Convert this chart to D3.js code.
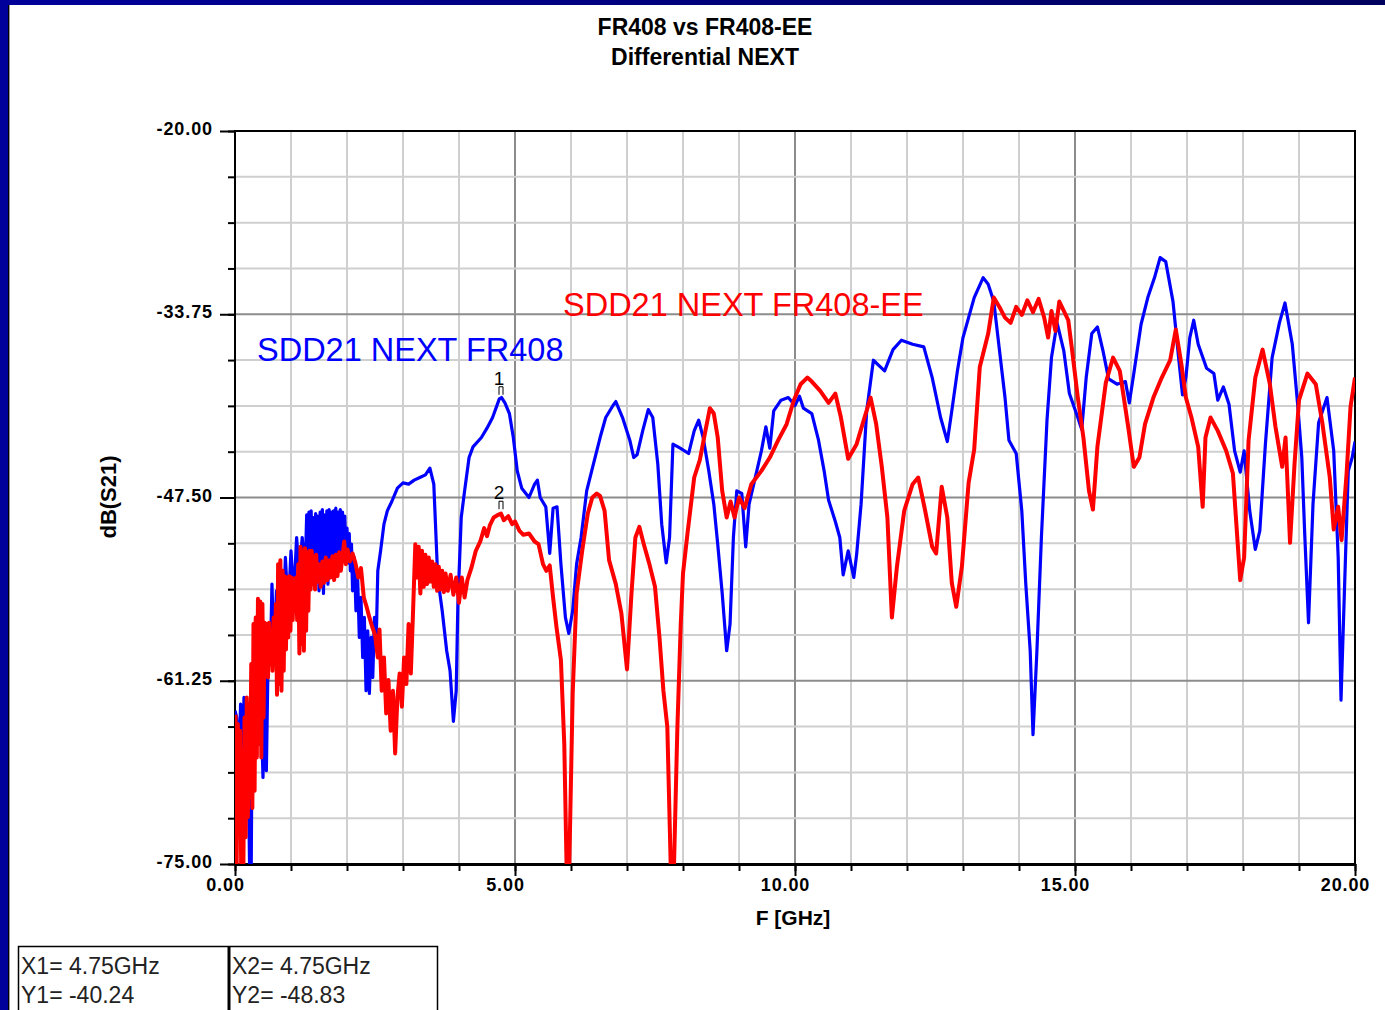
<!DOCTYPE html>
<html>
<head>
<meta charset="utf-8">
<script src="https://cdn.jsdelivr.net/npm/d3@7/dist/d3.min.js"></script>
<style>
  body { margin: 0; background: #fff; overflow: hidden; }
  svg { display: block; font-family: "Liberation Sans", Arial, sans-serif; }
</style>
</head>
<body>
<div id="chart"></div>
<script>
// Chart text
var titleLines = ["FR408 vs FR408-EE", "Differential NEXT"];
var xLabel = "F [GHz]";
var yLabel = "dB(S21)";
var seriesNames = ["SDD21 NEXT FR408", "SDD21 NEXT FR408-EE"];

// Axis ticks
var xMajor = [0, 5, 10, 15, 20];
var xMinor = d3.range(0, 21, 1);
var yMajor = [-20, -33.75, -47.5, -61.25, -75];
var yMinor = d3.range(0, 17).map(function (i) { return -20 - i * 3.4375; });

// Markers (freq GHz, dB)
var markerNames = ["1", "2"];
var markerFreq = [4.75, 4.75];
var markerDb = [-40.24, -48.83];

// SDD21 NEXT FR408 (blue) : [GHz, dB]
var fr408 = [
  [0.00,-63.5],[0.03,-64.0],[0.07,-67.5],[0.10,-63.0],[0.13,-69.0],[0.16,-62.5],[0.20,-71.0],[0.23,-66.0],
  [0.26,-75.0],[0.29,-75.0],[0.31,-62.0],[0.34,-67.0],[0.37,-58.5],[0.40,-66.0],[0.43,-57.5],[0.46,-62.5],
  [0.50,-68.5],[0.53,-60.0],[0.56,-68.0],[0.60,-57.0],[0.63,-60.0],[0.66,-54.0],[0.70,-59.5],[0.74,-54.5],
  [0.78,-58.0],[0.82,-53.0],[0.86,-57.0],[0.90,-52.0],[0.95,-56.0],[1.00,-51.5],[1.05,-55.0],[1.10,-50.5],
  [1.15,-53.5],[1.20,-50.5],[1.24,-52.5],[1.26,-52.0],[1.28,-48.8],[1.30,-53.5],[1.32,-48.6],[1.34,-54.0],
  [1.36,-48.5],[1.38,-53.0],[1.40,-49.0],[1.42,-54.2],[1.44,-48.7],[1.46,-53.6],[1.48,-48.9],[1.50,-54.5],
  [1.52,-48.6],[1.54,-53.8],[1.56,-48.4],[1.58,-54.7],[1.60,-48.8],[1.62,-53.2],[1.64,-48.5],[1.66,-54.0],
  [1.68,-48.4],[1.70,-52.8],[1.72,-48.6],[1.74,-53.5],[1.76,-48.5],[1.78,-52.4],[1.80,-48.3],[1.82,-53.0],
  [1.84,-48.6],[1.86,-52.6],[1.88,-48.4],[1.90,-51.8],[1.92,-48.6],[1.94,-52.2],[1.96,-48.9],[1.98,-51.5],
  [2.00,-49.8],[2.02,-52.4],[2.04,-50.2],[2.06,-53.0],[2.08,-51.0],[2.10,-54.5],[2.13,-52.0],[2.16,-56.0],
  [2.19,-53.5],[2.22,-58.0],[2.25,-55.0],[2.28,-59.5],[2.31,-56.5],[2.34,-62.0],[2.37,-57.5],[2.40,-62.2],
  [2.43,-58.0],[2.46,-61.0],[2.49,-56.5],[2.52,-58.5],[2.55,-53.0],[2.60,-51.5],[2.66,-49.5],[2.72,-48.5],
  [2.80,-47.8],[2.90,-46.8],[3.00,-46.4],[3.10,-46.5],[3.20,-46.2],[3.30,-46.0],[3.40,-45.8],[3.48,-45.3],
  [3.55,-46.5],[3.62,-53.5],[3.70,-56.0],[3.78,-59.0],[3.84,-60.5],[3.90,-64.3],[3.95,-62.0],[3.98,-55.5],
  [4.04,-49.0],[4.10,-47.0],[4.18,-44.5],[4.25,-43.7],[4.40,-43.0],[4.50,-42.3],[4.60,-41.5],[4.72,-40.1],
  [4.76,-40.0],[4.82,-40.4],[4.90,-41.2],[4.97,-43.0],[5.04,-45.5],[5.12,-46.8],[5.25,-47.5],[5.35,-46.5],
  [5.40,-46.2],[5.45,-47.5],[5.55,-48.2],[5.62,-51.7],[5.68,-48.3],[5.75,-48.2],[5.82,-52.5],[5.90,-56.5],
  [5.96,-57.7],[6.03,-56.0],[6.10,-52.5],[6.18,-50.5],[6.28,-47.0],[6.40,-45.0],[6.52,-43.0],[6.62,-41.5],
  [6.75,-40.6],[6.80,-40.3],[6.92,-41.5],[7.05,-43.2],[7.12,-44.5],[7.18,-44.3],[7.28,-42.5],[7.38,-40.9],
  [7.46,-41.5],[7.55,-45.0],[7.62,-49.5],[7.70,-52.4],[7.76,-50.5],[7.82,-43.5],[7.95,-43.8],[8.10,-44.2],
  [8.20,-42.5],[8.28,-41.7],[8.36,-43.0],[8.46,-45.5],[8.55,-48.0],[8.62,-51.0],[8.70,-54.7],[8.78,-59.0],
  [8.84,-57.0],[8.90,-50.5],[8.96,-47.0],[9.05,-47.2],[9.12,-51.2],[9.18,-48.0],[9.28,-46.2],[9.40,-44.0],
  [9.48,-42.2],[9.55,-43.8],[9.62,-41.0],[9.75,-40.2],[9.88,-40.0],[10.00,-40.6],[10.08,-39.9],[10.15,-40.8],
  [10.30,-41.2],[10.42,-43.2],[10.52,-45.5],[10.60,-47.7],[10.72,-49.3],[10.80,-50.5],[10.86,-53.3],[10.95,-51.5],
  [11.05,-53.5],[11.10,-51.8],[11.18,-48.0],[11.28,-41.0],[11.40,-37.2],[11.50,-37.6],[11.60,-38.0],[11.75,-36.4],
  [11.90,-35.7],[12.10,-36.0],[12.30,-36.2],[12.45,-38.5],[12.60,-41.5],[12.72,-43.3],[12.80,-41.0],[12.90,-38.0],
  [13.00,-35.5],[13.10,-34.0],[13.20,-32.5],[13.36,-31.0],[13.45,-31.5],[13.55,-32.8],[13.65,-36.4],[13.75,-40.0],
  [13.82,-43.2],[13.95,-44.2],[14.05,-48.5],[14.12,-53.9],[14.20,-59.0],[14.25,-65.3],[14.32,-59.0],[14.40,-50.5],
  [14.50,-41.7],[14.58,-37.0],[14.68,-34.4],[14.80,-36.5],[14.90,-39.7],[15.05,-41.5],[15.12,-42.4],[15.20,-38.5],
  [15.30,-35.2],[15.40,-34.7],[15.50,-36.5],[15.60,-38.6],[15.75,-39.0],[15.90,-38.8],[15.97,-40.4],[16.05,-38.2],
  [16.18,-34.5],[16.30,-32.5],[16.42,-31.0],[16.52,-29.5],[16.62,-29.8],[16.75,-32.8],[16.85,-37.0],[16.92,-39.8],
  [16.98,-38.5],[17.05,-35.5],[17.12,-34.2],[17.20,-36.0],[17.35,-37.8],[17.48,-38.2],[17.55,-40.2],[17.65,-39.2],
  [17.75,-40.5],[17.85,-44.0],[17.95,-45.6],[18.02,-44.0],[18.12,-48.5],[18.22,-51.4],[18.30,-50.0],[18.40,-43.5],
  [18.52,-37.0],[18.65,-34.4],[18.75,-32.9],[18.88,-36.0],[18.98,-40.7],[19.05,-44.5],[19.10,-50.0],[19.17,-56.9],
  [19.25,-48.0],[19.35,-41.9],[19.50,-40.0],[19.62,-44.0],[19.70,-52.0],[19.75,-62.7],[19.83,-52.0],[19.88,-45.5],
  [19.95,-44.5],[20.00,-43.3]
];

// SDD21 NEXT FR408-EE (red) : [GHz, dB]
var fr408ee = [
  [0.01,-63.8],[0.03,-75.0],[0.05,-64.5],[0.07,-72.0],[0.09,-65.0],[0.11,-75.0],[0.13,-66.5],[0.15,-75.0],
  [0.17,-64.0],[0.19,-73.0],[0.21,-62.5],[0.23,-71.5],[0.25,-63.0],[0.27,-70.0],[0.29,-60.0],[0.31,-70.8],
  [0.33,-57.0],[0.35,-69.5],[0.37,-56.5],[0.39,-67.0],[0.41,-55.1],[0.43,-66.0],[0.45,-55.3],[0.47,-67.0],
  [0.49,-55.5],[0.51,-64.0],[0.53,-56.9],[0.55,-60.5],[0.57,-57.0],[0.59,-61.0],[0.61,-56.9],[0.63,-60.0],
  [0.65,-57.5],[0.67,-60.5],[0.69,-56.5],[0.71,-59.5],[0.73,-55.5],[0.75,-62.3],[0.77,-52.5],[0.79,-61.5],
  [0.81,-52.2],[0.83,-62.0],[0.85,-53.0],[0.87,-60.5],[0.89,-53.4],[0.91,-58.9],[0.93,-53.5],[0.95,-58.0],
  [0.97,-53.4],[0.99,-57.5],[1.01,-53.5],[1.03,-56.7],[1.05,-53.6],[1.07,-56.0],[1.09,-53.5],[1.11,-56.7],
  [1.13,-52.5],[1.15,-59.2],[1.17,-51.2],[1.19,-58.5],[1.21,-51.5],[1.23,-59.0],[1.25,-51.3],[1.27,-57.5],
  [1.29,-51.6],[1.31,-56.0],[1.33,-51.5],[1.35,-54.4],[1.37,-51.5],[1.39,-54.0],[1.41,-52.0],[1.43,-54.4],
  [1.45,-51.8],[1.47,-53.8],[1.50,-52.5],[1.53,-54.2],[1.56,-52.3],[1.59,-53.9],[1.62,-52.0],[1.65,-53.7],
  [1.68,-52.2],[1.71,-53.5],[1.74,-51.9],[1.77,-53.7],[1.80,-51.8],[1.83,-53.4],[1.86,-51.6],[1.89,-53.0],
  [1.92,-51.9],[1.95,-50.8],[1.98,-52.5],[2.01,-51.4],[2.05,-52.3],[2.10,-51.7],[2.15,-52.4],[2.20,-53.5],
  [2.25,-52.8],[2.30,-55.0],[2.35,-55.7],[2.40,-56.5],[2.45,-57.2],[2.50,-57.8],[2.55,-59.5],[2.58,-57.4],
  [2.62,-62.0],[2.66,-59.5],[2.70,-63.7],[2.74,-61.2],[2.78,-65.0],[2.82,-62.0],[2.86,-66.7],[2.90,-62.5],
  [2.94,-60.7],[2.98,-63.2],[3.02,-59.5],[3.06,-61.5],[3.10,-57.0],[3.14,-60.7],[3.18,-56.0],[3.22,-51.0],
  [3.25,-53.5],[3.28,-51.2],[3.31,-54.7],[3.34,-51.5],[3.37,-54.2],[3.40,-51.8],[3.43,-54.0],[3.46,-52.0],
  [3.49,-53.8],[3.52,-52.3],[3.55,-54.2],[3.58,-52.5],[3.61,-54.5],[3.64,-52.7],[3.67,-54.4],[3.70,-53.0],
  [3.73,-54.6],[3.76,-53.2],[3.80,-54.5],[3.85,-53.3],[3.90,-54.8],[3.95,-53.5],[4.00,-55.4],[4.05,-53.5],
  [4.10,-55.0],[4.15,-53.7],[4.22,-52.8],[4.30,-51.5],[4.38,-50.8],[4.45,-49.8],[4.50,-50.4],[4.55,-49.6],
  [4.62,-49.0],[4.70,-48.8],[4.75,-48.7],[4.80,-49.2],[4.88,-48.9],[4.95,-49.5],[5.00,-49.3],[5.08,-50.0],
  [5.15,-50.3],[5.25,-50.2],[5.35,-50.8],[5.42,-51.0],[5.50,-52.5],[5.56,-53.0],[5.62,-52.6],[5.68,-55.0],
  [5.74,-57.2],[5.82,-59.7],[5.88,-66.0],[5.92,-75.0],[5.97,-75.0],[6.03,-62.2],[6.10,-54.7],[6.20,-51.5],
  [6.30,-48.7],[6.38,-47.5],[6.46,-47.2],[6.52,-47.4],[6.60,-48.5],[6.68,-52.2],[6.80,-54.0],[6.90,-56.2],
  [7.00,-60.4],[7.08,-54.7],[7.15,-50.5],[7.22,-49.7],[7.30,-51.0],[7.40,-52.5],[7.50,-54.2],[7.58,-58.0],
  [7.65,-62.0],[7.72,-64.7],[7.78,-75.0],[7.84,-75.0],[7.90,-64.7],[7.96,-57.0],[8.00,-53.2],[8.08,-50.2],
  [8.20,-46.0],[8.30,-44.7],[8.40,-42.5],[8.48,-40.8],[8.55,-41.2],[8.62,-43.0],[8.70,-47.0],[8.78,-49.0],
  [8.85,-47.8],[8.92,-49.0],[9.00,-47.5],[9.10,-48.3],[9.22,-46.5],[9.40,-45.5],[9.55,-44.5],[9.70,-43.2],
  [9.85,-42.0],[9.98,-40.2],[10.10,-39.0],[10.22,-38.5],[10.30,-38.8],[10.45,-39.5],[10.60,-40.4],[10.72,-39.7],
  [10.82,-41.5],[10.95,-44.6],[11.10,-43.5],[11.22,-41.8],[11.35,-40.0],[11.45,-42.0],[11.55,-45.2],[11.65,-49.0],
  [11.73,-56.5],[11.82,-52.7],[11.95,-48.5],[12.10,-46.5],[12.20,-46.0],[12.32,-48.4],[12.45,-51.2],[12.52,-51.7],
  [12.62,-46.7],[12.72,-49.0],[12.80,-53.9],[12.88,-55.7],[12.98,-52.7],[13.10,-46.4],[13.20,-43.9],[13.30,-37.7],
  [13.45,-35.2],[13.55,-32.5],[13.65,-33.2],[13.75,-34.0],[13.85,-34.4],[13.95,-33.2],[14.05,-33.8],[14.15,-32.7],
  [14.25,-33.6],[14.35,-32.6],[14.45,-34.0],[14.52,-35.5],[14.58,-33.5],[14.65,-35.0],[14.72,-32.8],[14.80,-33.5],
  [14.88,-34.2],[14.95,-36.5],[15.05,-40.0],[15.15,-43.0],[15.25,-47.0],[15.32,-48.4],[15.40,-43.7],[15.55,-38.9],
  [15.68,-37.0],[15.80,-38.0],[15.95,-42.2],[16.05,-45.2],[16.15,-44.5],[16.25,-42.0],[16.40,-40.0],[16.55,-38.5],
  [16.70,-37.2],[16.80,-34.9],[16.90,-37.5],[16.98,-40.0],[17.08,-41.5],[17.20,-43.7],[17.28,-48.2],[17.33,-43.0],
  [17.42,-41.5],[17.55,-42.5],[17.70,-44.0],[17.82,-45.7],[17.88,-49.4],[17.95,-53.7],[18.02,-52.0],[18.10,-43.2],
  [18.22,-38.5],[18.35,-36.4],[18.48,-39.0],[18.58,-42.2],[18.70,-45.2],[18.76,-43.0],[18.84,-50.9],[18.92,-45.0],
  [19.00,-40.2],[19.15,-38.2],[19.30,-39.0],[19.42,-42.0],[19.55,-46.0],[19.62,-49.9],[19.70,-48.2],[19.76,-50.7],
  [19.85,-45.7],[19.92,-40.7],[20.00,-38.5]
];

var svgWidth = 1385;
var svgHeight = 1010;
var plot = { left: 235, right: 1355, top: 131, bottom: 864 };

var svg = d3.select("#chart")
  .append("svg")
  .attr("width", svgWidth)
  .attr("height", svgHeight);

// Slide frame
var grad = svg.append("defs").append("linearGradient").attr("id", "topband");
grad.append("stop").attr("offset", "0%").attr("stop-color", "#00009a");
grad.append("stop").attr("offset", "100%").attr("stop-color", "#00005e");
svg.append("rect").attr("x", 0).attr("y", 0).attr("width", svgWidth).attr("height", 5).attr("fill", "url(#topband)");
svg.append("rect").attr("x", 0).attr("y", 0).attr("width", 8).attr("height", svgHeight).attr("fill", "#00009a");
svg.append("rect").attr("x", 8).attr("y", 5).attr("width", 1).attr("height", svgHeight).attr("fill", "#000");
svg.append("rect").attr("x", 9).attr("y", 5).attr("width", 1).attr("height", svgHeight).attr("fill", "#999");

// Scales
var xScale = d3.scaleLinear().domain([0, 20]).range([plot.left, plot.right]);
var yScale = d3.scaleLinear().domain([-75, -20]).range([plot.bottom, plot.top]);

// Grid
var grid = svg.append("g");
grid.selectAll(".vgrid")
  .data(xMinor.filter(function (d) { return d > 0 && d < 20; }))
  .enter().append("line")
  .attr("x1", function (d) { return xScale(d); })
  .attr("x2", function (d) { return xScale(d); })
  .attr("y1", plot.top).attr("y2", plot.bottom)
  .attr("stroke", function (d) { return d % 5 === 0 ? "#8c8c8c" : "#cfcfcf"; })
  .attr("stroke-width", 2);
grid.selectAll(".hgrid")
  .data(yMinor.filter(function (d) { return d < -20 && d > -75; }))
  .enter().append("line")
  .attr("y1", function (d) { return yScale(d); })
  .attr("y2", function (d) { return yScale(d); })
  .attr("x1", plot.left).attr("x2", plot.right)
  .attr("stroke", function (d) { return yMajor.indexOf(d) >= 0 ? "#8c8c8c" : "#cfcfcf"; })
  .attr("stroke-width", 2);

// Axes
function styleAxis(g) {
  g.select(".domain").remove();
  g.selectAll(".tick line").attr("stroke", "#000").attr("stroke-width", 2);
  g.selectAll(".tick text")
    .attr("fill", "#000")
    .style("font-size", "18px")
    .style("font-weight", "bold")
    .style("letter-spacing", "0.9px");
}

svg.append("g")
  .attr("transform", "translate(" + plot.left + ",0)")
  .call(d3.axisLeft(yScale).tickValues(yMinor).tickSize(7).tickFormat(""))
  .call(styleAxis);
svg.append("g")
  .attr("transform", "translate(" + plot.left + ",0)")
  .call(d3.axisLeft(yScale).tickValues(yMajor).tickSize(15).tickPadding(7)
    .tickFormat(function (d) { return d.toFixed(2); }))
  .call(styleAxis)
  .selectAll(".tick text").attr("dy", "0.2em");

svg.append("g")
  .attr("transform", "translate(0," + plot.bottom + ")")
  .call(d3.axisBottom(xScale).tickValues(xMinor).tickSize(7).tickFormat(""))
  .call(styleAxis);
svg.append("g")
  .attr("transform", "translate(0," + plot.bottom + ")")
  .call(d3.axisBottom(xScale).tickValues(xMajor).tickSize(12).tickPadding(2)
    .tickFormat(function (d) { return d.toFixed(2); }))
  .call(styleAxis)
  .selectAll(".tick text").attr("dx", -10);

// Plot frame
svg.append("rect")
  .attr("x", plot.left).attr("y", plot.top)
  .attr("width", plot.right - plot.left).attr("height", plot.bottom - plot.top)
  .attr("fill", "none").attr("stroke", "#000").attr("stroke-width", 2);
svg.append("line")
  .attr("x1", plot.left).attr("x2", plot.right)
  .attr("y1", plot.bottom + 0.5).attr("y2", plot.bottom + 0.5)
  .attr("stroke", "#000").attr("stroke-width", 3);

// Curves
svg.append("clipPath").attr("id", "plotclip")
  .append("rect")
  .attr("x", plot.left).attr("y", plot.top)
  .attr("width", plot.right - plot.left).attr("height", plot.bottom - plot.top);

var line = d3.line()
  .x(function (d) { return xScale(d[0]); })
  .y(function (d) { return yScale(d[1]); });

var curves = svg.append("g").attr("clip-path", "url(#plotclip)");
curves.append("path").datum(fr408)
  .attr("d", line).attr("fill", "none")
  .attr("stroke", "#0000ff").attr("stroke-width", 3.2).attr("stroke-linejoin", "round");
curves.append("path").datum(fr408ee)
  .attr("d", line).attr("fill", "none")
  .attr("stroke", "#ff0000").attr("stroke-width", 4).attr("stroke-linejoin", "round");

// Series labels
svg.append("text")
  .attr("x", 257).attr("y", 361)
  .attr("fill", "#0000ff").style("font-size", "32.5px")
  .text(seriesNames[0]);
svg.append("text")
  .attr("x", 563).attr("y", 316)
  .attr("fill", "#ff0000").style("font-size", "32.5px")
  .text(seriesNames[1]);

// Markers
markerNames.forEach(function (name, i) {
  var mx = xScale(markerFreq[i]);
  var my = yScale(markerDb[i]);
  svg.append("path")
    .attr("d", "M" + (mx - 2) + "," + (my - 6) + "v-8h4v8")
    .attr("fill", "none").attr("stroke", "#000").attr("stroke-width", 1);
  svg.append("text")
    .attr("x", mx - 2).attr("y", my - 16)
    .attr("text-anchor", "middle")
    .style("font-size", "19px")
    .attr("fill", "#000")
    .text(name);
});

// Titles
svg.selectAll(".title")
  .data(titleLines)
  .enter().append("text")
  .attr("x", 705)
  .attr("y", function (d, i) { return 35 + i * 30; })
  .attr("text-anchor", "middle")
  .style("font-size", "23px")
  .style("font-weight", "bold")
  .text(function (d) { return d; });

svg.append("text")
  .attr("x", 793).attr("y", 925)
  .attr("text-anchor", "middle")
  .style("font-size", "21px").style("font-weight", "bold")
  .text(xLabel);

svg.append("text")
  .attr("transform", "translate(116,497) rotate(-90)")
  .attr("text-anchor", "middle")
  .style("font-size", "22px").style("font-weight", "bold")
  .text(yLabel);

// Marker readout box
var box = svg.append("g");
box.append("rect")
  .attr("x", 18.5).attr("y", 946.5).attr("width", 419).attr("height", 80)
  .attr("fill", "#fff").attr("stroke", "#000").attr("stroke-width", 1.5);
box.append("line")
  .attr("x1", 229).attr("x2", 229).attr("y1", 946).attr("y2", 1010)
  .attr("stroke", "#000").attr("stroke-width", 3);
var readout = [
  ["X1= " + markerFreq[0] + "GHz", "Y1= " + markerDb[0].toFixed(2)],
  ["X2= " + markerFreq[1] + "GHz", "Y2= " + markerDb[1].toFixed(2)]
];
readout.forEach(function (col, i) {
  col.forEach(function (t, j) {
    box.append("text")
      .attr("x", i === 0 ? 21 : 232)
      .attr("y", 974 + j * 29)
      .style("font-size", "23px")
      .attr("fill", "#222")
      .text(t);
  });
});
</script>
</body>
</html>
